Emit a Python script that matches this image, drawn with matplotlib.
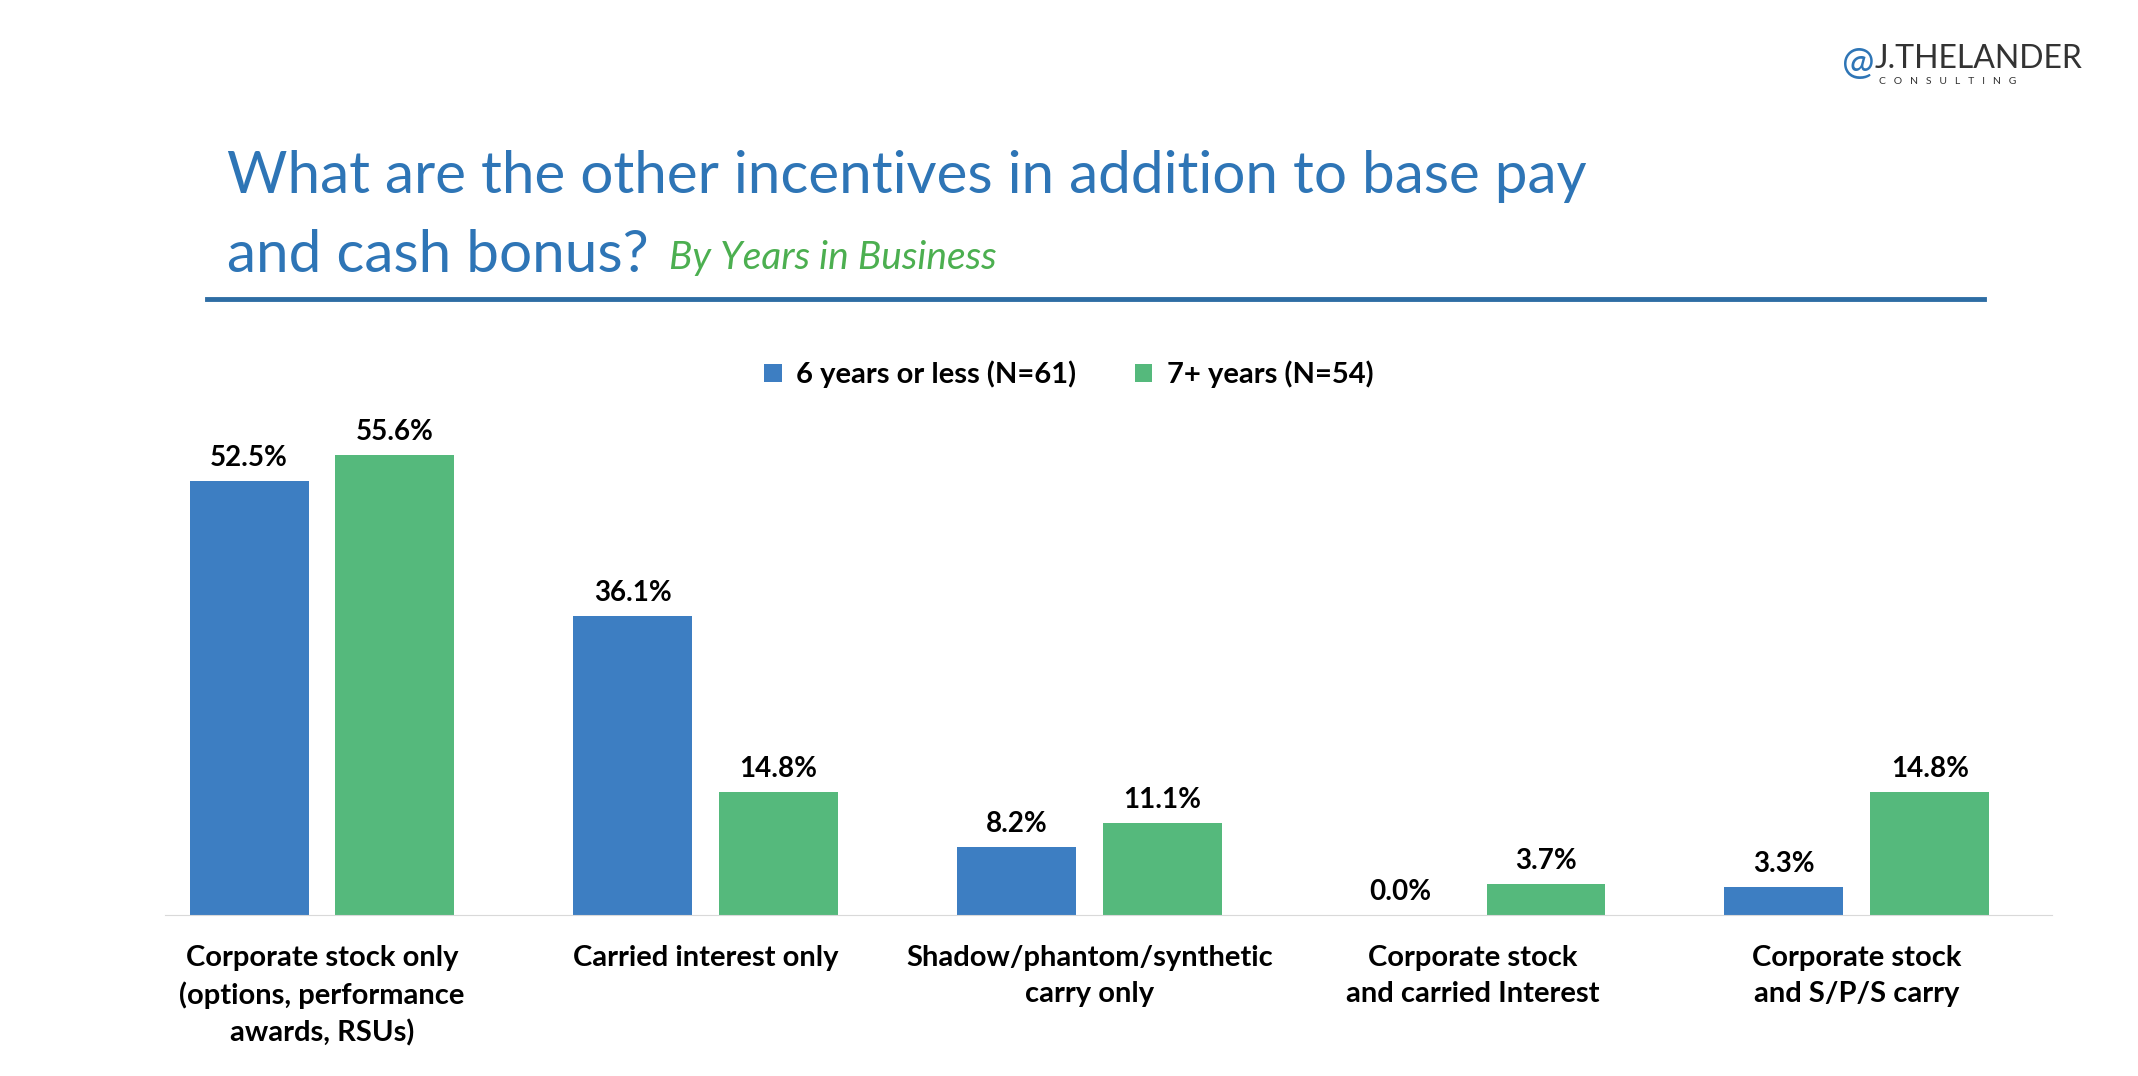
import matplotlib
matplotlib.use("Agg")
import matplotlib.pyplot as plt
import numpy as np

categories = ["Corporate stock only\n(options, performance\nawards, RSUs)",
              "Carried interest only",
              "Shadow/phantom/synthetic\ncarry only",
              "Corporate stock\nand carried Interest",
              "Corporate stock\nand S/P/S carry"]
young = [52.5, 36.1, 8.2, 0.0, 3.3]
old = [55.6, 14.8, 11.1, 3.7, 14.8]
series_names = ["6 years or less (N=61)", "7+ years (N=54)"]

plt.rcParams["font.family"] = "Lato"
fig = plt.figure(figsize=(21.38, 10.76), dpi=100)
fig.patch.set_facecolor("white")

# titles
fig.text(0.106, 0.836, "What are the other incentives in addition to base pay",
         fontsize=42, color="#2E75B6", va="center")
fig.text(0.106, 0.763, "and cash bonus?", fontsize=42, color="#2E75B6", va="center")
fig.text(0.313, 0.760, "By Years in Business", fontsize=28, color="#4CAF50",
         style="italic", va="center")
fig.add_artist(plt.Line2D([0.097, 0.928], [0.722, 0.722], color="#2E6DA4", lw=3.5))

# logo
fig.text(0.877, 0.945, "J.THELANDER", fontsize=23, color="#333333", va="center")
fig.text(0.879, 0.924, "C   O   N   S   U   L   T   I   N   G", fontsize=7.5,
         color="#333333", va="center")
fig.text(0.869, 0.941, "@", fontsize=28, color="#2E75B6", va="center", ha="center")

ax = fig.add_axes([0.077, 0.150, 0.883, 0.461])
x = np.arange(len(categories))
w = 0.31
b1 = ax.bar(x - 0.19, young, w, color="#3D7EC2")
b2 = ax.bar(x + 0.19, old, w, color="#55B97C")
for bars in (b1, b2):
    for r in bars:
        ax.text(r.get_x() + r.get_width() / 2, r.get_height() + 1.2,
                f"{r.get_height():.1f}%", ha="center", va="bottom",
                fontsize=20, fontweight="bold")
ax.set_ylim(0, 60)
ax.set_xlim(-0.41, 4.51)
ax.set_yticks([])
ax.set_xticks(x)
ax.set_xticklabels(categories, fontsize=21, fontweight="bold", va="top", linespacing=1.45)
ax.tick_params(axis="x", length=0, pad=22)
for s in ["top", "right", "left"]:
    ax.spines[s].set_visible(False)
ax.spines["bottom"].set_color("#D9D9D9")

fig.legend([b1, b2], series_names, loc="center", bbox_to_anchor=(0.5, 0.652), ncol=2,
           frameon=False, prop={"size": 21, "weight": "bold"}, handlelength=0.6,
           handleheight=0.6, columnspacing=2, handletextpad=0.5)

fig.savefig("out.png", dpi=100)
